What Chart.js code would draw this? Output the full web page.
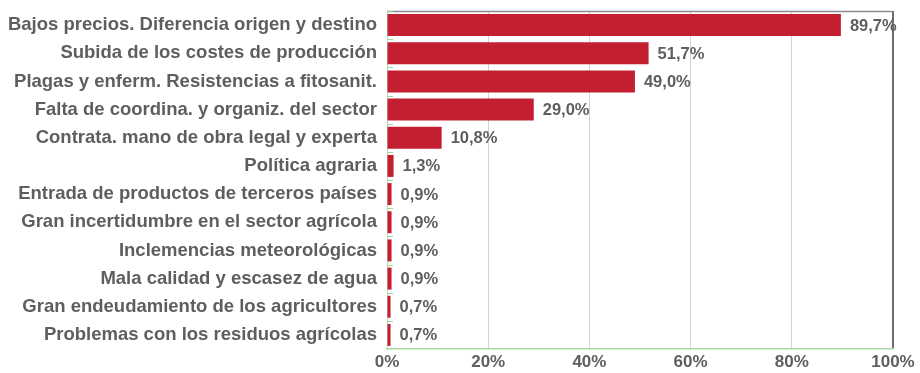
<!DOCTYPE html>
<html>
<head>
<meta charset="utf-8">
<script src="https://cdn.jsdelivr.net/npm/chart.js@4/dist/chart.umd.min.js"></script>
<style>
  html, body { margin: 0; padding: 0; background: #fff; }
  #wrap { width: 920px; height: 373px; }
</style>
</head>
<body>
<div id="wrap"><canvas id="problemasChart"></canvas></div>
<script>
const categorias = [
    'Bajos precios. Diferencia origen y destino',
    'Subida de los costes de producción',
    'Plagas y enferm. Resistencias a fitosanit.',
    'Falta de coordina. y organiz. del sector',
    'Contrata. mano de obra legal y experta',
    'Política agraria',
    'Entrada de productos de terceros países',
    'Gran incertidumbre en el sector agrícola',
    'Inclemencias meteorológicas',
    'Mala calidad y escasez de agua',
    'Gran endeudamiento de los agricultores',
    'Problemas con los residuos agrícolas'
];
const porcentajes = [89.7, 51.7, 49.0, 29.0, 10.8, 1.3, 0.9, 0.9, 0.9, 0.9, 0.7, 0.7];
const ticksX = [0, 20, 40, 60, 80, 100];

const GRIS = '#5e5e5e';
const FUENTE = '"Liberation Sans", Arial, sans-serif';
const fmt = v => v.toFixed(1).replace('.', ',') + '%';

// etiquetas de valor al final de cada barra + marco del área
const extras = {
    id: 'extras',
    beforeDatasetsDraw(chart) {
        const { ctx, chartArea: a, scales: { y } } = chart;
        ctx.save();
        // borde superior
        ctx.strokeStyle = '#8c8c8c';
        ctx.lineWidth = 1.5;
        ctx.beginPath();
        ctx.moveTo(a.left, a.top + 0.5);
        ctx.lineTo(a.right, a.top + 0.5);
        ctx.stroke();
        // marcas verdes entre categorías
        ctx.strokeStyle = '#9fd49a';
        ctx.lineWidth = 1;
        for (let i = 0; i < categorias.length; i++) {
            const yy = Math.round(y.getPixelForValue(i - 0.5)) + 0.5;
            ctx.beginPath();
            ctx.moveTo(a.left, yy);
            ctx.lineTo(a.left + 6, yy);
            ctx.stroke();
        }
        ctx.restore();
    },
    afterDatasetsDraw(chart) {
        const { ctx } = chart;
        const meta = chart.getDatasetMeta(0);
        ctx.save();
        ctx.font = 'bold 16.5px ' + FUENTE;
        ctx.fillStyle = GRIS;
        ctx.textAlign = 'left';
        ctx.textBaseline = 'middle';
        meta.data.forEach((bar, i) => {
            ctx.fillText(fmt(porcentajes[i]), bar.x + 9, bar.y + 1);
        });
        ctx.restore();
    }
};

const ctx = document.getElementById('problemasChart').getContext('2d');
new Chart(ctx, {
    type: 'bar',
    data: {
        labels: categorias,
        datasets: [{
            data: porcentajes,
            backgroundColor: '#c41f30',
            borderWidth: 0,
            barPercentage: 0.78,
            categoryPercentage: 1
        }]
    },
    options: {
        indexAxis: 'y',
        responsive: true,
        maintainAspectRatio: false,
        animation: false,
        layout: { padding: { top: 11, right: 27, bottom: 0, left: 0 } },
        plugins: {
            legend: { display: false },
            tooltip: { enabled: false }
        },
        scales: {
            x: {
                min: 0,
                max: 100,
                afterBuildTicks: axis => { axis.ticks = ticksX.map(v => ({ value: v })); },
                afterFit: axis => { axis.height = 24; },
                ticks: {
                    callback: v => v + '%',
                    color: GRIS,
                    padding: 3,
                    maxRotation: 0,
                    font: { family: FUENTE, size: 17, weight: 'bold' }
                },
                grid: {
                    drawTicks: false,
                    color: c => c.tick.value === 100 ? '#6e6e6e' : (c.tick.value === 0 ? 'rgba(0,0,0,0)' : '#d2d2d2'),
                    lineWidth: c => c.tick.value === 100 ? 2 : 1
                },
                border: { color: '#a9d8a4', width: 1.5 }
            },
            y: {
                afterFit: axis => {
                    axis.width = 387;
                    axis.paddingTop = 0;
                    axis.paddingBottom = 0;
                },
                ticks: {
                    color: GRIS,
                    padding: 10,
                    font: { family: FUENTE, size: 18.5, weight: 'bold' }
                },
                grid: { display: false, drawTicks: false },
                border: { color: '#bcd9b8', width: 1 }
            }
        }
    },
    plugins: [extras]
});
</script>
</body>
</html>
